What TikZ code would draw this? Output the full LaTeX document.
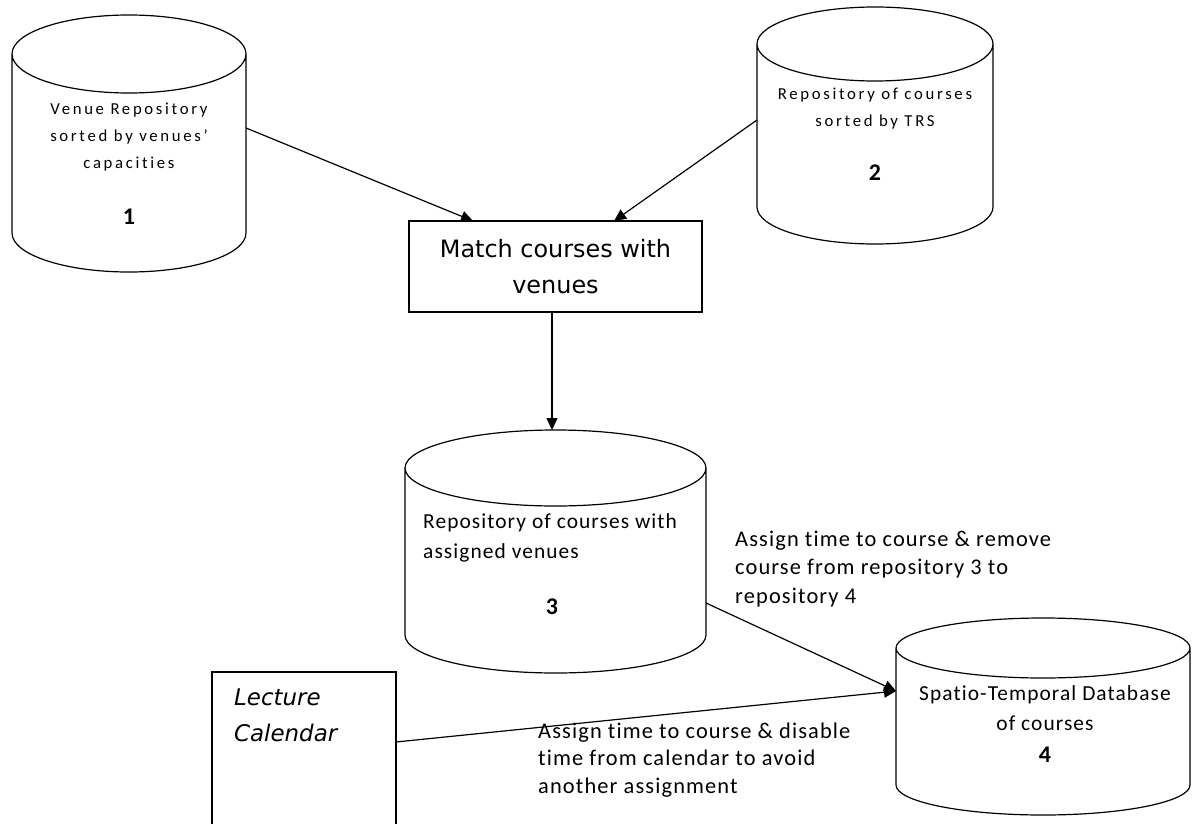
\documentclass[tikz,border=0pt]{standalone}
\usepackage{fontspec}
\setmainfont[Ligatures=NoCommon]{Carlito}
\newfontfamily\spacedA[LetterSpace=16,Ligatures=NoCommon]{Carlito}
\newfontfamily\spacedB[LetterSpace=5,Ligatures=NoCommon]{Carlito}
\newfontfamily\dejavu{DejaVu Sans}
\usetikzlibrary{arrows.meta}
\newcommand\cylout[3]{%
  \draw[cylline] ([yshift=-#3bp]#1.north west) -- ([yshift=#3bp]#1.south west)
    arc[start angle=180,end angle=360,x radius=#2bp,y radius=#3bp]
    -- ([yshift=-#3bp]#1.north east)
    arc[start angle=0,end angle=180,x radius=#2bp,y radius=#3bp]
    arc[start angle=180,end angle=360,x radius=#2bp,y radius=#3bp];
}
\begin{document}
\begin{tikzpicture}[x=1bp,y=-1bp,
  hold/.style={inner sep=0pt,outer sep=0pt,draw=none},
  cylline/.style={line width=1.2bp,black},
  boxnode/.style={draw,line width=1.2bp,inner sep=0pt,outer sep=0pt},
  arr/.style={line width=1.2bp,-{Triangle[length=12bp,width=11bp]}},
  smalltext/.style={align=center,inner sep=0pt,font=\spacedA\fontsize{16.8}{27}\selectfont},
  midtext/.style={inner sep=0pt,font=\spacedB\fontsize{21.5}{30}\selectfont},
  numtext/.style={inner sep=0pt,font=\bfseries\fontsize{24}{28}\selectfont}]
\useasboundingbox (0,0) rectangle (1193,824);
\clip (0,0) rectangle (1193,824);

% containers
\node[hold,minimum width=234bp,minimum height=257bp] (c1) at (129,143.5) {};
\node[hold,minimum width=236bp,minimum height=237bp] (c2) at (875,125.5) {};
\node[hold,minimum width=301bp,minimum height=243bp] (c3) at (555.5,551.5) {};
\node[hold,minimum width=294bp,minimum height=197bp] (c4) at (1043,716.5) {};
\cylout{c1}{117}{39}
\cylout{c2}{118}{37}
\cylout{c3}{150.5}{38}
\cylout{c4}{147}{30}

\node[boxnode,minimum width=293bp,minimum height=91bp,align=center,
      font=\dejavu\fontsize{24}{36}\selectfont] (box) at (555.5,266.5)
      {Match courses with\\venues};
\node[boxnode,minimum width=184bp,minimum height=168bp] (cal) at (304,756) {};

% texts
\node[smalltext] (t1) at (129,137) {Venue Repository\\sorted by venues’\\capacities};
\node[numtext] (n1) at (129,217) {1};
\node[smalltext] (t2) at (875,108.5) {Repository of courses\\sorted by TRS};
\node[numtext] (n2) at (875,173) {2};
\node[midtext,align=left,anchor=west] (t3) at (423,538) {Repository of courses with\\assigned venues};
\node[numtext] (n3) at (552,607) {3};
\node[midtext,align=center] (t4) at (1045,708) {Spatio-Temporal Database\\of courses};
\node[numtext] (n4) at (1045,755) {4};
\node[inner sep=0pt,align=left,anchor=west,font=\dejavu\itshape\fontsize{23}{36}\selectfont] (calt) at (234,715) {Lecture\\Calendar};
\node[inner sep=0pt,align=left,anchor=west,font=\spacedB\fontsize{22.5}{29}\selectfont] (l1) at (735,569)
  {Assign time to course \& remove\\course from repository 3 to\\repository 4};
\node[inner sep=0pt,align=left,anchor=west,font=\spacedB\fontsize{22.5}{27.5}\selectfont] (l2) at (538,760)
  {Assign time to course \& disable\\time from calendar to avoid\\another assignment};

% connectors
\draw[arr] ([yshift=15.5bp]c1.east) -- ([xshift=-82.5bp]box.north);
\draw[arr] ([yshift=5.5bp]c2.west) -- ([xshift=58.5bp]box.north);
\draw[arr] ([xshift=-3.5bp]box.south) -- ([xshift=-3.5bp]c3.north);
\draw[arr] ([yshift=-51.5bp]c3.east) -- ([yshift=25.5bp]c4.west);
\draw[arr] ([yshift=14bp]cal.east) -- ([yshift=25.5bp]c4.west);
\end{tikzpicture}
\end{document}
